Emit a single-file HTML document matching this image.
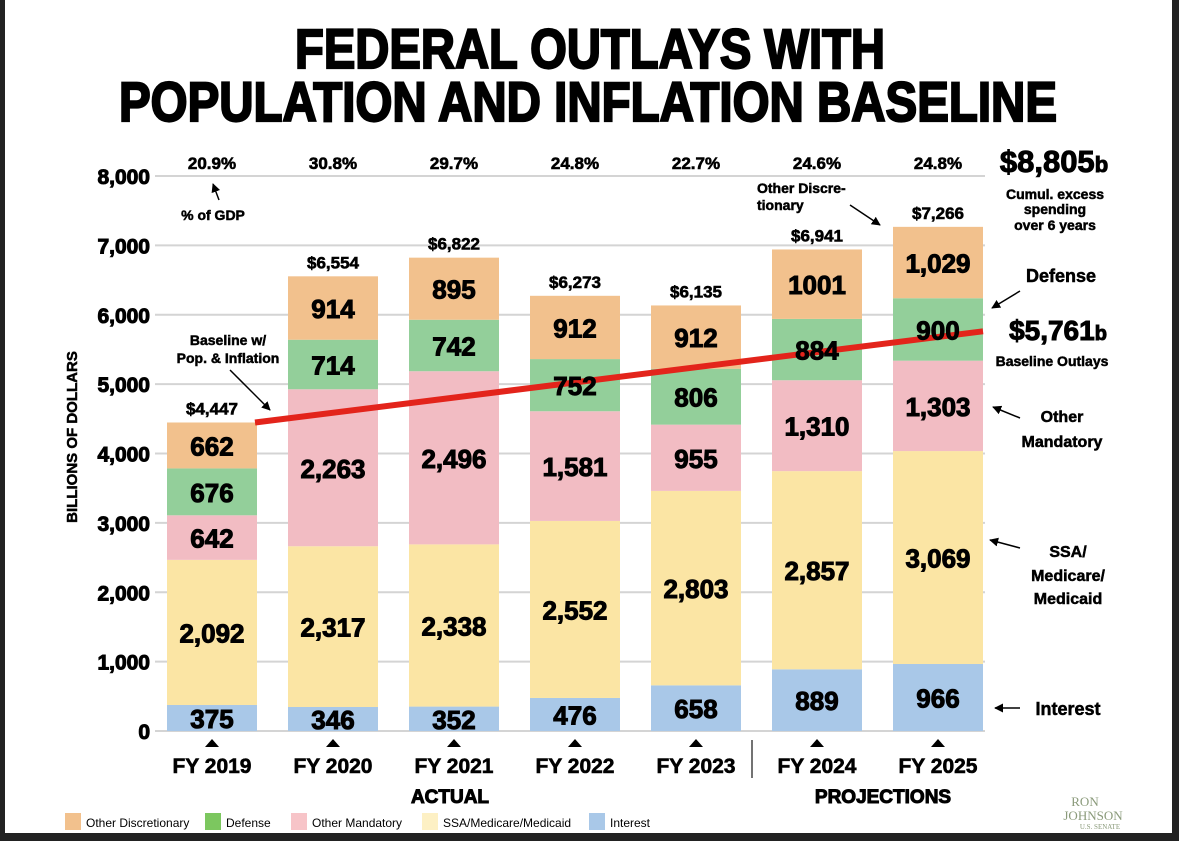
<!DOCTYPE html>
<html><head><meta charset="utf-8"><style>
html,body{margin:0;padding:0;background:#222;}
svg{display:block;font-family:"Liberation Sans",Arial,sans-serif;}
.hv{stroke:#000;stroke-width:1;paint-order:stroke;}
</style></head><body>
<svg id="chart" width="1179" height="841" viewBox="0 0 1179 841">
<defs><marker id="ah" viewBox="0 0 10 10" refX="9" refY="5" markerWidth="6" markerHeight="6" orient="auto"><path d="M0,0L10,5L0,10z" fill="#000"/></marker></defs>
<rect x="5" y="0" width="1167" height="833" fill="#fff"/>
<g font-weight="bold" text-anchor="middle" stroke="#000" stroke-width="2.2">
<text x="590" y="68" font-size="56" textLength="590" lengthAdjust="spacingAndGlyphs">FEDERAL OUTLAYS WITH</text>
<text x="588" y="121" font-size="56" textLength="938" lengthAdjust="spacingAndGlyphs">POPULATION AND INFLATION BASELINE</text>
</g>
<g id="grid"></g><g id="bars"></g><g id="line"></g><g id="labels"></g><g id="xaxis"></g>
<text class="hv" transform="translate(77,437) rotate(-90)" text-anchor="middle" font-size="15" font-weight="bold" style="stroke-width:0.5">BILLIONS OF DOLLARS</text>
<line x1="752" y1="740" x2="752" y2="778" stroke="#444" stroke-width="1.5"/>
<text class="hv" x="450" y="803" text-anchor="middle" font-size="19" font-weight="bold">ACTUAL</text>
<text class="hv" x="883" y="803" text-anchor="middle" font-size="19" font-weight="bold">PROJECTIONS</text>
<g font-weight="bold" text-anchor="middle" font-size="14" stroke="#000" stroke-width="0.5">
<text x="1054" y="172" font-size="31" stroke-width="1">$8,805<tspan font-size="22">b</tspan></text>
<text x="1055" y="199">Cumul. excess</text>
<text x="1055" y="214">spending</text>
<text x="1055" y="230">over 6 years</text>
<text x="1061" y="282" font-size="18">Defense</text>
<line x1="1020" y1="291" x2="992" y2="308" stroke="#000" stroke-width="1.5" marker-end="url(#ah)"/>
<text x="1058" y="340" font-size="28" stroke-width="1">$5,761<tspan font-size="20">b</tspan></text>
<text x="1052" y="366">Baseline Outlays</text>
<text x="1062" y="422" font-size="16">Other</text>
<text x="1062" y="447" font-size="16">Mandatory</text>
<line x1="1020" y1="418" x2="993" y2="407" stroke="#000" stroke-width="1.5" marker-end="url(#ah)"/>
<text x="1068" y="557" font-size="16">SSA/</text>
<text x="1068" y="581" font-size="16">Medicare/</text>
<text x="1068" y="604" font-size="16">Medicaid</text>
<line x1="1020" y1="548" x2="990" y2="540" stroke="#000" stroke-width="1.5" marker-end="url(#ah)"/>
<text x="1068" y="715" font-size="18">Interest</text>
<line x1="1020" y1="708" x2="995" y2="708" stroke="#000" stroke-width="1.5" marker-end="url(#ah)"/>
<text x="757" y="193" text-anchor="start">Other Discre-</text>
<text x="757" y="210" text-anchor="start">tionary</text>
<line x1="850" y1="205" x2="880" y2="225" stroke="#000" stroke-width="1.5" marker-end="url(#ah)"/>
<text x="213" y="220">% of GDP</text>
<line x1="219" y1="200" x2="213" y2="184" stroke="#000" stroke-width="1.5" marker-end="url(#ah)"/>
<text x="228" y="345">Baseline w/</text>
<text x="228" y="363">Pop. &amp; Inflation</text>
<line x1="230" y1="370" x2="270" y2="410" stroke="#000" stroke-width="1.5" marker-end="url(#ah)"/>
</g>
<g id="legend"></g>
<g fill="#8a9a7a" font-family="'Liberation Serif',serif" text-anchor="middle">
<text x="1085" y="806" font-size="13">RON</text>
<text x="1093" y="820" font-size="13">JOHNSON</text>
<text x="1100" y="829" font-size="7">U.S. SENATE</text>
</g>
</svg>
<script>
const years = ["FY 2019","FY 2020","FY 2021","FY 2022","FY 2023","FY 2024","FY 2025"];
const interest = [375,346,352,476,658,889,966];
const ssa = [2092,2317,2338,2552,2803,2857,3069];
const otherMandatory = [642,2263,2496,1581,955,1310,1303];
const defense = [676,714,742,752,806,884,900];
const otherDisc = [662,914,895,912,912,1001,1029];
const totals = ["$4,447","$6,554","$6,822","$6,273","$6,135","$6,941","$7,266"];
const gdpPct = ["20.9%","30.8%","29.7%","24.8%","22.7%","24.6%","24.8%"];
const segLabels = [
 ["375","346","352","476","658","889","966"],
 ["2,092","2,317","2,338","2,552","2,803","2,857","3,069"],
 ["642","2,263","2,496","1,581","955","1,310","1,303"],
 ["676","714","742","752","806","884","900"],
 ["662","914","895","912","912","1001","1,029"]];
const yTicks = [0,1000,2000,3000,4000,5000,6000,7000,8000];
const yTickLabels = ["0","1,000","2,000","3,000","4,000","5,000","6,000","7,000","8,000"];
const baselineStart = 4447;
const baselineEnd = 5761;

const NS="http://www.w3.org/2000/svg";
const y = v => 731 - v*0.069375;
const xc = i => 212 + i*121;
const bw = 90;
function mk(tag, parent, at){const e=document.createElementNS(NS,tag);for(const k in at)e.setAttribute(k,at[k]);parent.appendChild(e);return e;}
const grid=document.getElementById('grid'), bars=document.getElementById('bars'), labels=document.getElementById('labels'), xaxis=document.getElementById('xaxis'), legend=document.getElementById('legend'), lineG=document.getElementById('line');
yTicks.forEach((t,i)=>{
 const l=mk('line',grid,{x1:155,x2:985,y1:y(t),y2:y(t),stroke:'#d4d4d4','stroke-width':2});
 
 
 const tx=mk('text',grid,{x:150,y:y(t)+8,'text-anchor':'end','font-size':21,'font-weight':'bold',class:'hv'});
 tx.textContent=yTickLabels[i];
 
 
});
const series=[interest,ssa,otherMandatory,defense,otherDisc];
const colors=['#a9c8e8','#fbe5a4','#f2bcc3','#93cf9a','#f2c18d'];
const snames=['interest','ssa-medicare-medicaid','other-mandatory','defense','other-discretionary'];
years.forEach((yr,i)=>{
 let acc=0;
 series.forEach((s,k)=>{
  const y0=y(acc), y1=y(acc+s[i]);
  const r=mk('rect',bars,{x:xc(i)-bw/2,y:y1,width:bw,height:y0-y1,fill:colors[k]});
  
  
  const t=mk('text',labels,{x:xc(i),y:(y0+y1)/2+10,'text-anchor':'middle','font-size':26,'font-weight':'bold',class:'hv'});
  t.textContent=segLabels[k][i];
  
  
  acc+=s[i];
 });
 const tt=mk('text',labels,{x:xc(i),y:y(acc)-8,'text-anchor':'middle','font-size':17,'font-weight':'bold',class:'hv',style:'stroke-width:0.6'});
 tt.textContent=totals[i];
 
 
 const g=mk('text',labels,{x:xc(i),y:169,'text-anchor':'middle','font-size':17,'font-weight':'bold',class:'hv',style:'stroke-width:0.6'});
 g.textContent=gdpPct[i];
 
 
 const tri=mk('path',xaxis,{d:`M${xc(i)-7},747L${xc(i)+7},747L${xc(i)},739z`,fill:'#000'});
 
 
 const xl=mk('text',xaxis,{x:xc(i),y:773,'text-anchor':'middle','font-size':21,'font-weight':'bold',class:'hv',style:'stroke-width:0.6'});
 xl.textContent=yr;
 
 
});
const bl=mk('line',lineG,{x1:xc(0)+bw/2-2,y1:y(baselineStart),x2:xc(6)+bw/2,y2:y(baselineEnd),stroke:'#e3241b','stroke-width':6});


const legItems=[['Other Discretionary','#f2c18d',65],['Defense','#7cc75f',205],['Other Mandatory','#f7c4c8',291],['SSA/Medicare/Medicaid','#fdf0c4',422],['Interest','#a9c8e8',589]];
legItems.forEach(([n,c,x])=>{
 const s=mk('rect',legend,{x:x,y:813,width:16,height:17,fill:c});
 
 
 const t=mk('text',legend,{x:x+21,y:827,'font-size':12});
 t.textContent=n;
 
 
});
</script>
</body></html>
